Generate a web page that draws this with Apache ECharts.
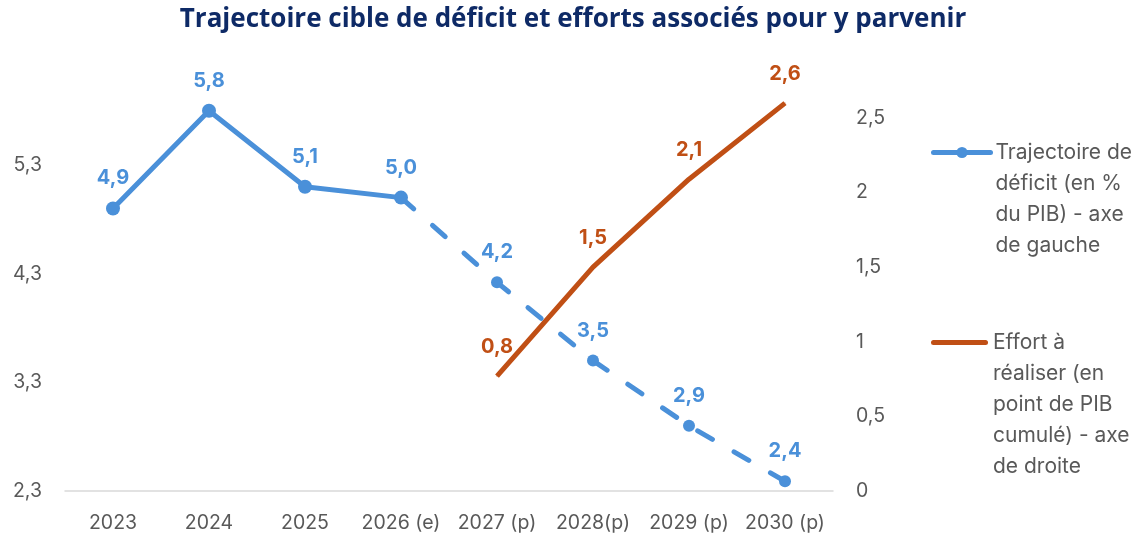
<!DOCTYPE html>
<html>
<head>
<meta charset="utf-8">
<script src="https://cdn.jsdelivr.net/npm/echarts@6/dist/echarts.min.js"></script>
<style>
  html, body { margin: 0; padding: 0; background: #fff; }
  #chart { width: 1142px; height: 538px; }
</style>
</head>
<body>
<div id="chart"></div>
<script>
// données
const years = ['2023', '2024', '2025', '2026 (e)', '2027 (p)', '2028(p)', '2029 (p)', '2030 (p)']
const deficit = [4.9, 5.8, 5.1, 5.0, 4.22, 3.5, 2.9, 2.39]
const effort = [null, null, null, null, 0.77, 1.5, 2.09, 2.6]
const lastObserved = 3 // index of 2026 (e): solid up to here, dashed afterwards
const leftTicks = [2.3, 3.3, 4.3, 5.3]
const rightTicks = [0, 0.5, 1, 1.5, 2, 2.5]

const nameDeficit = 'Trajectoire de\ndéficit (en %\ndu PIB) - axe\nde gauche'
const nameEffort = 'Effort à\nréaliser (en\npoint de PIB\ncumulé) - axe\nde droite'

const BLUE = '#4A90D9'
const ORANGE = '#C04F15'
const GREY = '#595959'
const FONT = 'Inter, "Open Sans", sans-serif'

const fmt = (v) => (Math.round(v * 10) / 10).toFixed(1).replace('.', ',')
const fmtTick = (v) => String(Math.round(v * 10) / 10).replace('.', ',')

const solidPart = deficit.map((v, i) => (i <= lastObserved ? v : '-'))
const dashedPart = deficit.map((v, i) => (i >= lastObserved ? { value: v, label: { show: i > lastObserved }, symbolSize: i > lastObserved ? 12 : 0 } : '-'))
const effortData = effort.map((v) => (v == null ? '-' : v))

// blank lines above the name so the first line sits next to the icon
const padLines = (name) => '\n'.repeat(name.split('\n').length - 1) + name

const chart = echarts.init(document.getElementById('chart'))

const legendText = {
  color: GREY,
  fontSize: 21,
  fontFamily: FONT,
  lineHeight: 31
}
const labelBase = { show: true, position: 'top', fontSize: 20, fontWeight: 'bold', fontFamily: FONT, formatter: (p) => fmt(p.value) }
const axisText = { color: GREY, fontSize: 19.5, fontFamily: FONT }

chart.setOption({
  animation: false,
  title: {
    text: 'Trajectoire cible de déficit et efforts associés pour y parvenir',
    left: 568,
    textAlign: 'center',
    top: 2,
    textStyle: { color: '#0E2A66', fontSize: 26, fontWeight: 'bold', fontFamily: '"Open Sans", sans-serif' }
  },
  grid: { left: 65, right: 309, top: 57, bottom: 47, containLabel: false },
  legend: [
    {
      left: 931, top: 44, padding: 0, itemWidth: 57, itemHeight: 14,
      data: [nameDeficit],
      formatter: padLines,
      lineStyle: { width: 5, cap: 'round' },
      textStyle: legendText
    },
    {
      left: 931, top: 203, padding: 0, itemWidth: 57, itemHeight: 5,
      data: [{ name: nameEffort, icon: 'path://M2.5,0 H54.5 A2.5,2.5 0 0 1 54.5,5 H2.5 A2.5,2.5 0 0 1 2.5,0 Z' }],
      formatter: padLines,
      textStyle: legendText
    }
  ],
  xAxis: {
    type: 'category',
    data: years,
    boundaryGap: true,
    axisLine: { lineStyle: { color: '#D9D9D9', width: 1.5 } },
    axisTick: { show: false },
    axisLabel: Object.assign({}, axisText, { margin: 22, interval: 0, hideOverlap: false })
  },
  yAxis: [
    {
      type: 'value',
      min: leftTicks[0],
      max: 6.294,
      interval: 1,
      splitLine: { show: false },
      axisLine: { show: false },
      axisTick: { show: false },
      axisLabel: Object.assign({}, axisText, { margin: 23, showMaxLabel: false, formatter: fmt })
    },
    {
      type: 'value',
      min: rightTicks[0],
      max: 2.909,
      interval: 0.5,
      splitLine: { show: false },
      axisLine: { show: false },
      axisTick: { show: false },
      axisLabel: Object.assign({}, axisText, { margin: 23, showMaxLabel: false, formatter: fmtTick })
    }
  ],
  series: [
    {
      name: nameDeficit,
      type: 'line',
      yAxisIndex: 0,
      data: solidPart,
      symbol: 'circle',
      symbolSize: 14,
      itemStyle: { color: BLUE },
      lineStyle: { color: BLUE, width: 5 },
      label: Object.assign({}, labelBase, { distance: 13, color: BLUE }),
      z: 3
    },
    {
      name: nameDeficit,
      type: 'line',
      yAxisIndex: 0,
      data: dashedPart,
      symbol: 'circle',
      itemStyle: { color: BLUE },
      lineStyle: { color: BLUE, width: 5, type: [17, 25], cap: 'round' },
      label: Object.assign({}, labelBase, { distance: 14, color: BLUE }),
      z: 3
    },
    {
      name: nameEffort,
      type: 'line',
      yAxisIndex: 1,
      data: effortData,
      symbol: 'circle',
      symbolSize: 1,
      itemStyle: { color: ORANGE },
      lineStyle: { color: ORANGE, width: 5 },
      label: Object.assign({}, labelBase, { distance: 19, color: ORANGE }),
      z: 2
    }
  ]
})

window.addEventListener('resize', () => chart.resize())
</script>
</body>
</html>
